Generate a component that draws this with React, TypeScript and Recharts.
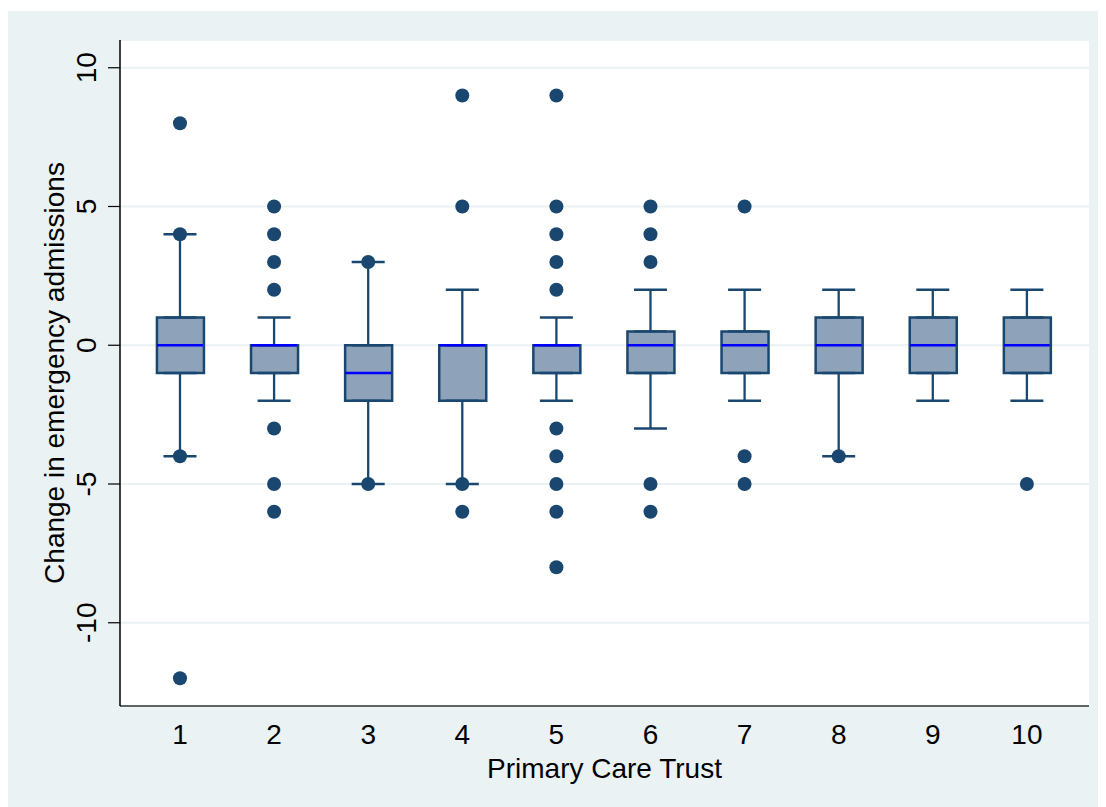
import {
  Bar,
  CartesianGrid,
  ComposedChart,
  ErrorBar,
  Label,
  Scatter,
  XAxis,
  YAxis,
} from "recharts";

const pcts = [1, 2, 3, 4, 5, 6, 7, 8, 9, 10];
const q1 = [-1, -1, -2, -2, -1, -1, -1, -1, -1, -1];
const q3 = [1, 0, 0, 0, 0, 0.5, 0.5, 1, 1, 1];
const medians = [0, 0, -1, 0, 0, 0, 0, 0, 0, 0];
const lowWhisker = [-4, -2, -5, -5, -2, -3, -2, -4, -2, -2];
const highWhisker = [4, 1, 3, 2, 1, 2, 2, 2, 2, 2];
const outlierValues = [
  [8, 4, -4, -12],
  [5, 4, 3, 2, -3, -5, -6],
  [3, -5],
  [9, 5, -5, -6],
  [9, 5, 4, 3, 2, -3, -4, -5, -6, -8],
  [5, 4, 3, -5, -6],
  [5, -4, -5],
  [-4],
  [],
  [-5],
];
const yTicks = [-10, -5, 0, 5, 10];

const navy = "#1a476f";
const font = "'Liberation Sans', Arial, sans-serif";

const boxData = pcts.map((p, i) => ({
  pct: p,
  box: [q1[i], q3[i]],
  q1: q1[i],
  q3: q3[i],
  median: medians[i],
  lowErr: [q1[i] - lowWhisker[i], 0],
  highErr: [0, highWhisker[i] - q3[i]],
}));

const outliers = pcts.flatMap((p, i) =>
  outlierValues[i].map((v) => ({ pct: p, value: v }))
);

const YTick = (props: any) => {
  const { x, y, payload } = props;
  return (
    <text
      transform={`translate(${x - 20},${y}) rotate(-90)`}
      textAnchor="middle"
      dominantBaseline="central"
      fontSize={28}
      fontFamily={font}
      fill="#000"
    >
      {payload.value}
    </text>
  );
};

const YLabel = (props: any) => {
  const vb = props.viewBox;
  return (
    <text
      transform={`translate(${vb.x + 46},${vb.y + vb.height / 2}) rotate(-90)`}
      textAnchor="middle"
      dominantBaseline="central"
      fontSize={28}
      fontFamily={font}
      fill="#000"
    >
      Change in emergency admissions
    </text>
  );
};

const Hidden = () => <g />;

const MedianLine = (props: any) => {
  const { cx, cy } = props;
  return <line x1={cx - 23} x2={cx + 23} y1={cy} y2={cy} stroke="#0000ff" strokeWidth={2.5} />;
};

const Dot = (props: any) => {
  const { cx, cy } = props;
  return <circle cx={cx} cy={cy} r={7} fill={navy} />;
};

export default function App() {
  return (
    <div style={{ paddingTop: 3 }}>
      <div style={{ width: 1098, height: 796, background: "#eaf2f3" }}>
        <ComposedChart
          width={1098}
          height={796}
          data={boxData}
          margin={{ top: 29, right: 17, bottom: 0, left: 0 }}
        >
          <CartesianGrid vertical={false} stroke="#eaf2f3" strokeWidth={2} fill="#ffffff" />
          <XAxis
            dataKey="pct"
            type="number"
            domain={[0.3625, 10.66]}
            ticks={pcts}
            interval={0}
            height={101}
            tickLine={false}
            tickSize={6}
            tickMargin={12}
            axisLine={{ stroke: "#333", strokeWidth: 1.5 }}
            tick={{ fill: "#000", fontSize: 28, fontFamily: font }}
          >
            <Label
              value="Primary Care Trust"
              position="insideBottom"
              offset={29}
              fill="#000"
              fontSize={28}
              fontFamily={font}
            />
          </XAxis>
          <YAxis
            type="number"
            domain={[-13, 11]}
            ticks={yTicks}
            interval={0}
            width={112}
            tickSize={12}
            tickLine={{ stroke: "#000", strokeWidth: 1.2 }}
            axisLine={{ stroke: "#000", strokeWidth: 1.5 }}
            tick={<YTick />}
          >
            <Label content={<YLabel />} />
          </YAxis>
          <Scatter dataKey="q1" shape={<Hidden />} isAnimationActive={false}>
            <ErrorBar dataKey="lowErr" direction="y" width={16.5} stroke={navy} strokeWidth={2.3} isAnimationActive={false} />
          </Scatter>
          <Scatter dataKey="q3" shape={<Hidden />} isAnimationActive={false}>
            <ErrorBar dataKey="highErr" direction="y" width={16.5} stroke={navy} strokeWidth={2.3} isAnimationActive={false} />
          </Scatter>
          <Bar
            dataKey="box"
            barSize={47}
            fill="#8ea3ba"
            stroke={navy}
            strokeWidth={2.5}
            isAnimationActive={false}
          />
          <Scatter dataKey="median" shape={<MedianLine />} isAnimationActive={false} />
          <Scatter data={outliers} dataKey="value" shape={<Dot />} isAnimationActive={false} />
        </ComposedChart>
      </div>
    </div>
  );
}
